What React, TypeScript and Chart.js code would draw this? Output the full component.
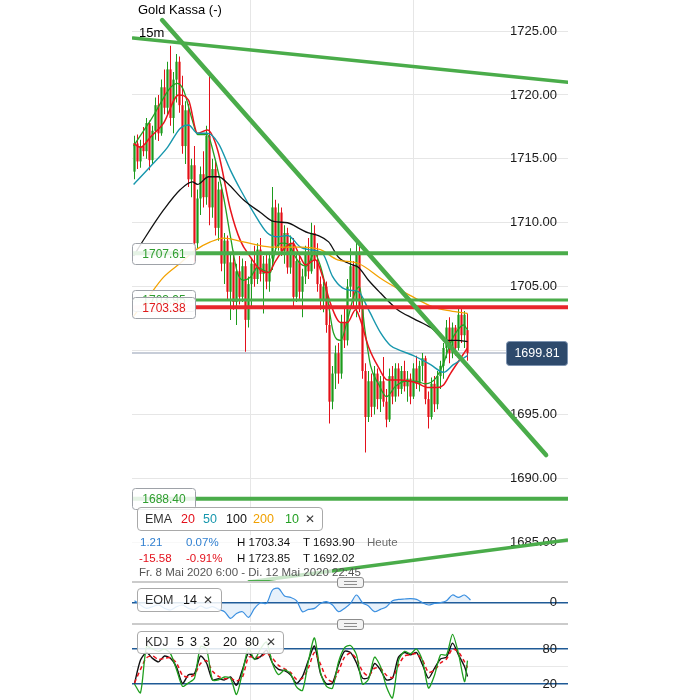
import React, { useEffect, useRef } from 'react';
import { Chart, registerables } from 'chart.js';

Chart.register(...registerables);

const FONT = '"Liberation Sans", Arial, Helvetica, sans-serif';
Chart.defaults.font.family = FONT;

// ---------------- data ----------------
const candleOpen = [
  1714.0, 1716.2, 1714.8, 1716.0, 1715.6, 1717.8, 1714.9, 1717.2, 1719.2, 1717.0,
  1720.6, 1719.0, 1722.0, 1718.2, 1721.2, 1722.6, 1719.2, 1716.0, 1718.8, 1713.4,
  1714.5, 1708.4, 1711.9, 1713.8, 1712.0, 1716.8, 1711.2, 1714.2, 1709.6, 1712.6,
  1706.8, 1708.6, 1704.6, 1706.9, 1703.8, 1706.2, 1704.2, 1706.6, 1702.4, 1705.2,
  1706.8, 1705.6, 1707.9, 1706.0, 1706.8, 1705.4, 1707.2, 1711.2, 1708.2, 1710.8,
  1707.8, 1709.2, 1706.5, 1708.4, 1704.2, 1707.0, 1704.6, 1705.8, 1707.6, 1706.2,
  1709.2, 1707.0, 1705.2, 1704.0, 1705.0, 1702.0, 1696.0, 1698.2, 1699.8, 1698.2,
  1702.2, 1700.8, 1705.0, 1706.6, 1704.0, 1707.6, 1703.4, 1698.4, 1694.8, 1697.6,
  1695.6, 1698.2, 1696.2, 1697.6, 1696.0, 1694.6, 1698.0, 1696.4, 1698.6, 1697.0,
  1698.4, 1697.2, 1697.8, 1696.4, 1698.6, 1697.4, 1698.8, 1699.4, 1696.2, 1694.8,
  1697.4, 1695.8, 1698.0, 1698.8, 1700.2, 1701.8, 1699.8, 1701.8, 1700.2, 1702.8,
  1701.2, 1701.6,
];
const candleHigh = [
  1716.8, 1716.9, 1716.5, 1717.5, 1718.2, 1718.0, 1717.6, 1719.8, 1720.0, 1721.2,
  1722.0, 1722.6, 1723.85, 1721.8, 1723.2, 1723.0, 1721.5, 1719.5, 1719.3, 1715.0,
  1716.0, 1712.6, 1714.4, 1715.6, 1717.6, 1721.9, 1715.0, 1714.8, 1713.2, 1713.0,
  1709.2, 1709.0, 1707.6, 1707.8, 1706.8, 1707.4, 1707.2, 1707.0, 1705.8, 1707.2,
  1708.2, 1708.4, 1708.8, 1707.4, 1707.6, 1707.6, 1712.8, 1711.8, 1711.5, 1711.2,
  1709.8, 1709.6, 1709.0, 1708.8, 1707.6, 1707.6, 1706.4, 1708.2, 1708.8, 1710.0,
  1709.8, 1708.4, 1705.8, 1705.4, 1705.4, 1703.6, 1698.8, 1700.4, 1700.6, 1702.8,
  1703.4, 1705.6, 1708.0, 1707.0, 1708.6, 1708.2, 1704.0, 1699.0, 1698.4, 1698.2,
  1698.8, 1698.6, 1698.0, 1699.5, 1697.0, 1698.6, 1698.8, 1699.0, 1699.0, 1698.8,
  1699.2, 1698.4, 1698.2, 1699.0, 1699.6, 1699.2, 1699.8, 1699.6, 1696.8, 1697.9,
  1698.0, 1698.4, 1699.2, 1700.6, 1702.4, 1702.6, 1702.2, 1702.0, 1703.34, 1703.3,
  1703.1, 1702.9,
];
const candleLow = [
  1713.4, 1714.2, 1714.3, 1715.2, 1715.0, 1714.1, 1714.6, 1716.5, 1716.4, 1716.8,
  1718.5, 1718.4, 1717.6, 1717.0, 1719.4, 1718.6, 1715.4, 1714.6, 1712.8, 1712.0,
  1706.9, 1708.0, 1710.6, 1711.2, 1711.4, 1709.8, 1710.4, 1709.0, 1708.6, 1706.2,
  1705.2, 1704.0, 1702.4, 1703.2, 1702.0, 1703.6, 1703.8, 1699.9, 1701.8, 1703.4,
  1705.0, 1705.2, 1705.4, 1702.9, 1704.8, 1704.6, 1706.3, 1707.6, 1707.8, 1707.4,
  1706.8, 1706.0, 1706.0, 1703.4, 1703.8, 1704.0, 1702.6, 1705.2, 1705.6, 1706.0,
  1706.4, 1704.6, 1703.2, 1703.0, 1701.4, 1694.3, 1695.4, 1697.0, 1697.4, 1697.8,
  1700.2, 1700.4, 1704.2, 1703.4, 1702.6, 1703.0, 1697.8, 1692.02, 1694.4, 1694.8,
  1695.0, 1695.4, 1695.2, 1695.6, 1694.0, 1694.4, 1695.8, 1696.0, 1696.4, 1696.6,
  1696.8, 1696.0, 1695.8, 1696.2, 1697.0, 1696.8, 1697.6, 1695.8, 1693.9, 1694.6,
  1695.2, 1695.4, 1697.0, 1697.8, 1699.4, 1699.0, 1699.4, 1699.6, 1700.0, 1700.6,
  1700.2, 1699.2,
];
const candleClose = [
  1716.2, 1714.8, 1716.0, 1715.6, 1717.8, 1714.9, 1717.2, 1719.2, 1717.0, 1720.6,
  1719.0, 1722.0, 1718.2, 1721.2, 1722.6, 1719.2, 1716.0, 1718.8, 1713.4, 1714.5,
  1708.4, 1711.9, 1713.8, 1712.0, 1716.8, 1711.2, 1714.2, 1709.6, 1712.6, 1706.8,
  1708.6, 1704.6, 1706.9, 1703.8, 1706.2, 1704.2, 1706.6, 1702.4, 1705.2, 1706.8,
  1705.6, 1707.9, 1706.0, 1706.8, 1705.4, 1707.2, 1711.2, 1708.2, 1710.8, 1707.8,
  1709.2, 1706.5, 1708.4, 1704.2, 1707.0, 1704.6, 1705.8, 1707.6, 1706.2, 1709.2,
  1707.0, 1705.2, 1704.0, 1705.0, 1702.0, 1696.0, 1698.2, 1699.8, 1698.2, 1702.2,
  1700.8, 1705.0, 1706.6, 1704.0, 1707.6, 1703.4, 1698.4, 1694.8, 1697.6, 1695.6,
  1698.2, 1696.2, 1697.6, 1696.0, 1694.6, 1698.0, 1696.4, 1698.6, 1697.0, 1698.4,
  1697.2, 1697.8, 1696.4, 1698.6, 1697.4, 1698.8, 1699.4, 1696.2, 1694.8, 1697.4,
  1695.8, 1698.0, 1698.8, 1700.2, 1701.8, 1699.8, 1701.8, 1700.2, 1702.8, 1701.2,
  1702.8, 1699.81,
];

// EMA lines: [candle index, price]
const ema10 = [
  [-0.3, 1716.0], [5.3, 1718.0], [14.3, 1720.9], [16.3, 1720.4], [19.3, 1718.0], [21, 1716.9],
  [24.3, 1716.9], [26.3, 1715.5], [29.7, 1712.0], [32, 1708.9], [34.3, 1706.1], [36.3, 1705.5],
  [38.7, 1705.75], [41, 1706.5], [43, 1706.3], [45.3, 1706.1], [47, 1707.9], [49.3, 1708.4],
  [51.3, 1708.3], [53.7, 1707.3], [55.3, 1706.8], [57.3, 1706.6], [60, 1707.6], [62, 1706.6],
  [64, 1704.6], [66.3, 1701.4], [68.7, 1700.8], [71, 1702.4], [73.3, 1704.4], [75, 1705.0],
  [76.7, 1701.8], [78.7, 1698.8], [81.3, 1697.4], [84, 1696.4], [87, 1697.2], [90.3, 1697.6],
  [93.7, 1697.6], [97, 1697.4], [100.3, 1697.8], [103, 1699.0], [105.3, 1700.6], [107.7, 1701.6],
  [109.7, 1702.0], [111, 1701.6],
];
const ema20 = [
  [-0.3, 1716.2], [2, 1715.9], [5.3, 1716.7], [9.7, 1717.8], [14.7, 1720.0], [18, 1719.6],
  [21, 1717.0], [24.3, 1717.25], [27.7, 1715.7], [32, 1711.0], [35.3, 1708.6], [38.7, 1707.3],
  [42, 1706.3], [44.7, 1706.1], [47, 1707.0], [50, 1708.0], [52.7, 1708.4], [55.3, 1707.3],
  [57, 1706.7], [60.3, 1707.1], [62.7, 1705.8], [65.3, 1703.7], [68.7, 1702.2], [71, 1702.2],
  [73.7, 1703.2], [75.3, 1702.4], [78, 1700.3], [81.3, 1698.7], [84.3, 1697.7], [88.7, 1697.7],
  [93.7, 1697.5], [98, 1697.1], [101, 1697.1], [103, 1697.3], [105.3, 1698.2], [108.7, 1699.4],
  [111, 1700.2],
];
const ema50 = [
  [-0.3, 1713.0], [5.3, 1714.4], [11, 1715.9], [15.3, 1717.4], [18, 1717.65], [21, 1717.0],
  [24.3, 1717.0], [28, 1716.2], [32, 1714.1], [35.3, 1712.6], [39.7, 1710.8], [44.3, 1709.2],
  [47.7, 1708.9], [51, 1709.0], [55.3, 1708.1], [58, 1707.9], [62.7, 1707.6], [66, 1705.8],
  [69.3, 1704.9], [72.7, 1704.7], [74.7, 1704.6], [78, 1703.2], [82, 1701.4], [85.3, 1700.4],
  [88.7, 1700.0], [93, 1699.6], [98.7, 1698.9], [103, 1698.3], [106.3, 1698.9], [109, 1699.3],
  [111, 1699.6],
];
const ema100 = [
  [-0.3, 1707.4], [3, 1708.65], [9.7, 1711.0], [15.3, 1712.6], [19.3, 1713.2], [21, 1713.0],
  [24.7, 1713.6], [28, 1713.6], [31, 1713.1], [36.3, 1711.8], [42, 1710.8], [46.3, 1710.1],
  [51, 1710.0], [55.3, 1709.5], [58, 1709.2], [61.3, 1709.0], [64.7, 1708.5], [68, 1707.3],
  [72.7, 1706.7], [74.7, 1706.5], [78, 1705.5], [82, 1704.5], [87.7, 1703.2], [93, 1702.5],
  [98.7, 1701.8], [104.3, 1700.8], [107.7, 1700.8], [111, 1700.7],
];
const ema200 = [
  [-0.3, 1702.7], [4.3, 1704.1], [9.7, 1705.75], [15.3, 1706.85], [20.3, 1707.86], [25.3, 1708.5],
  [29.7, 1708.8], [36.3, 1708.5], [45.3, 1708.1], [55.3, 1708.1], [62, 1707.9], [67.7, 1707.1],
  [74.3, 1706.85], [83, 1705.5], [92, 1704.3], [99.7, 1703.4], [105.3, 1703.1], [111, 1702.9],
];

// drawn lines
const topTrend = [[-0.5, 1724.45], [144.5, 1721.0]];
const downTrend = [[9.2, 1725.86], [137.2, 1691.82]];
const lowTrend = [[37.8, 1681.89], [144.5, 1685.17]];
const levelTags = [1707.61, 1703.95, 1703.38, 1688.40];
const levelColors = ['#2f9e2f', '#2f9e2f', '#e01b1b', '#2f9e2f'];
const levelLineColors = ['#4aac4a', '#4aac4a', '#e8262b', '#4aac4a'];
const levelLineWidths = [4, 3, 4, 4];
const lastPrice = 1699.81;

const priceTicks = [1685, 1690, 1695, 1700, 1705, 1710, 1715, 1720, 1725];
const dayBreaks = [38.67, 93];

// indicators
const kdjIndex = [
  0, 2, 4, 6, 8, 10, 12, 14, 16, 18, 20, 22, 24, 26, 28, 30, 32, 34, 36, 38,
  40, 42, 44, 46, 48, 50, 52, 54, 56, 58, 60, 62, 64, 66, 68, 70, 72, 74, 76, 78,
  80, 82, 84, 86, 88, 90, 92, 94, 96, 98, 100, 102, 104, 106, 108, 110, 111,
];
const kValues = [
  21, 61, 74, 64, 58, 68, 64, 49, 21, 36, 38, 68, 56, 27, 29, 27, 32, 18, 45, 73,
  63, 67, 78, 56, 45, 43, 36, 21, 33, 61, 85, 38, 20, 22, 53, 76, 74, 56, 30, 31,
  55, 44, 27, 30, 66, 74, 70, 74, 53, 30, 47, 63, 66, 90, 70, 50, 33,
];
const dValues = [
  22, 45, 65, 68, 62, 64, 65, 56, 35, 32, 36, 55, 60, 42, 33, 29, 30, 25, 32, 66,
  66, 66, 73, 64, 52, 46, 40, 28, 30, 48, 74, 54, 30, 24, 42, 66, 73, 63, 42, 34,
  47, 47, 35, 31, 52, 68, 70, 72, 61, 40, 44, 56, 63, 80, 75, 58, 48,
];
const jValues = [
  20, 5, 84, 80, 76, 80, 72, 45, 16, 22, 30, 84, 80, 27, 27, 32, 30, 2, 40, 82,
  62, 80, 92, 55, 36, 44, 38, 15, 9, 60, 99, 40, 16, 13, 58, 82, 86, 70, 20, 28,
  66, 50, 15, -4, 60, 76, 72, 80, 60, 13, 35, 70, 70, 105, 72, 24, 60,
];
const eomIndex = [
  0, 2, 4, 6, 8, 10, 12, 14, 16, 18, 20, 22, 24, 26, 28, 30, 32, 34, 36, 38,
  40, 42, 44, 46, 48, 50, 52, 54, 56, 58, 60, 62, 64, 66, 68, 70, 72, 74, 76, 78,
  80, 82, 84, 86, 88, 90, 92, 94, 96, 98, 100, 102, 104, 106, 108, 110, 112,
];
const eomValues = [
  2, -2.3, -5.7, -4, -2.3, -5.7, -7.3, -4, -2.3, -5.7, -6.7, -3.3, -5.7, -4, -6.7, -9, -15.7, -10.7, -9, -14.7,
  -5.7, 0, -0.7, 12.7, 14.3, 6.7, 5.3, 2, -9, -6.7, -5.7, -0.7, 1, -2.3, -9, -5.7, -0.7, 7.7, 0, -3.3,
  -9, -6.7, -4, 2, 3.3, 3.7, 4, 3.3, 0, -2.3, -0.7, 0, 2, 7.7, 5.3, 7.7, 2.7,
];

const X_MIN = -0.8333;
const X_MAX = 144.5;

// ---------------- helpers ----------------
const pts = (pairs: number[][]) => pairs.map(([x, y]) => ({ x, y }));
const zip = (xs: number[], ys: number[]) => xs.map((x, i) => ({ x, y: ys[i] }));

function rr(ctx: CanvasRenderingContext2D, x: number, y: number, w: number, h: number, r: number) {
  ctx.beginPath();
  ctx.moveTo(x + r, y);
  ctx.lineTo(x + w - r, y);
  ctx.arcTo(x + w, y, x + w, y + r, r);
  ctx.lineTo(x + w, y + h - r);
  ctx.arcTo(x + w, y + h, x + w - r, y + h, r);
  ctx.lineTo(x + r, y + h);
  ctx.arcTo(x, y + h, x, y + h - r, r);
  ctx.lineTo(x, y + r);
  ctx.arcTo(x, y, x + r, y, r);
  ctx.closePath();
}

const priceTagPlugin = {
  id: 'priceTags',
  afterDraw(chart: any) {
    const ctx: CanvasRenderingContext2D = chart.ctx;
    const ys = chart.scales.y;
    ctx.save();
    ctx.textAlign = 'center';
    ctx.textBaseline = 'middle';
    ctx.font = `12px ${FONT}`;
    levelTags.forEach((v, k) => {
      const cy = ys.getPixelForValue(v);
      const h = 21;
      rr(ctx, 0.5, Math.round(cy - h / 2) + 0.5, 63, h, 3);
      ctx.fillStyle = 'rgba(255,255,255,0.86)';
      ctx.fill();
      ctx.strokeStyle = '#9ea2a8';
      ctx.lineWidth = 1;
      ctx.stroke();
      ctx.fillStyle = levelColors[k];
      ctx.fillText(v.toFixed(2), 32, cy + 1);
    });
    const cy = ys.getPixelForValue(lastPrice);
    rr(ctx, 374.5, Math.round(cy - 12) + 0.5, 61, 24, 3);
    ctx.fillStyle = '#2e4a6c';
    ctx.fill();
    ctx.strokeStyle = '#7d93b0';
    ctx.stroke();
    ctx.fillStyle = '#ffffff';
    ctx.font = `12.5px ${FONT}`;
    ctx.fillText(lastPrice.toFixed(2), 405, cy + 1);
    ctx.restore();
  },
};

const makeXAxis = () => ({
  type: 'linear' as const,
  min: X_MIN,
  max: X_MAX,
  offset: false,
  ticks: { display: false },
  grid: { color: '#e6e6e6', drawTicks: false, offset: false },
  border: { display: false },
  afterBuildTicks: (s: any) => {
    s.ticks = dayBreaks.map((v) => ({ value: v }));
  },
});

const rightAxis = (min: number, max: number, values: number[], extra: any = {}) => ({
  type: 'linear' as const,
  position: 'right' as const,
  min,
  max,
  afterBuildTicks: (s: any) => {
    s.ticks = values.map((v) => ({ value: v }));
  },
  afterFit: (s: any) => {
    s.width = 0;
    s.paddingTop = 0;
    s.paddingBottom = 0;
  },
  border: { display: false },
  ...extra,
});

export default function App() {
  const mainRef = useRef<HTMLCanvasElement>(null);
  const eomRef = useRef<HTMLCanvasElement>(null);
  const kdjRef = useRef<HTMLCanvasElement>(null);

  useEffect(() => {
    const charts: Chart[] = [];
    const up = candleClose.map((c, i) => c >= candleOpen[i]);
    const bodies = candleOpen.map((o, i) => ({ x: i, y: [o, candleClose[i]] }));
    const wicks = candleOpen.map((_, i) => ({ x: i, y: [candleLow[i], candleHigh[i]] }));

    const line = (data: any[], color: string, width: number, order: number, extra: any = {}) => ({
      type: 'line' as const,
      data,
      borderColor: color,
      borderWidth: width,
      pointRadius: 0,
      fill: false,
      order,
      ...extra,
    });

    const datasets: any[] = [
      line(pts(downTrend), '#4aac4a', 4.5, 0, { borderCapStyle: 'round' }),
      line(pts(topTrend), '#4aac4a', 3.5, 0, { borderCapStyle: 'round' }),
      line(pts(lowTrend), '#4aac4a', 3.5, 0),
      ...levelTags.map((v, k) =>
        line(pts([[X_MIN, v], [X_MAX, v]]), levelLineColors[k], levelLineWidths[k], 1)
      ),
      line(pts(ema200), '#f3a200', 1.3, 2, { cubicInterpolationMode: 'monotone' }),
      line(pts(ema100), '#111111', 1.3, 2, { cubicInterpolationMode: 'monotone' }),
      line(pts(ema50), '#1797ad', 1.4, 2, { cubicInterpolationMode: 'monotone' }),
      line(pts(ema20), '#e8141c', 1.5, 2, { cubicInterpolationMode: 'monotone' }),
      line(pts(ema10), '#23a023', 1.3, 2, { cubicInterpolationMode: 'monotone' }),
      {
        type: 'bar',
        data: wicks,
        backgroundColor: up.map((u) => (u ? '#1d9b1d' : '#e3101b')),
        barThickness: 1,
        grouped: false,
        inflateAmount: 0,
        order: 3,
      },
      {
        type: 'bar',
        data: bodies,
        backgroundColor: up.map((u) => (u ? 'rgba(90,182,90,0.85)' : 'rgba(236,78,78,0.8)')),
        barThickness: 3,
        grouped: false,
        inflateAmount: 0,
        order: 4,
      },
      line(pts([[X_MIN, lastPrice], [X_MAX, lastPrice]]), '#b4bccb', 1.5, 5),
    ];

    charts.push(
      new Chart(mainRef.current!, {
        type: 'bar',
        data: { datasets },
        options: {
          responsive: false,
          animation: false,
          layout: { padding: 0 },
          plugins: { legend: { display: false }, tooltip: { enabled: false } },
          scales: {
            x: makeXAxis() as any,
            y: rightAxis(1681.89, 1727.43, priceTicks, {
              ticks: {
                mirror: true,
                padding: -11,
                color: '#1a1a1a',
                font: { size: 13, family: FONT },
                callback: (v: any) => Number(v).toFixed(2),
              },
              grid: { color: '#e6e6e6', drawTicks: false },
            }) as any,
          },
        },
        plugins: [priceTagPlugin],
      })
    );

    charts.push(
      new Chart(eomRef.current!, {
        type: 'line',
        data: {
          datasets: [
            {
              data: zip(eomIndex, eomValues),
              borderColor: '#3a8fe0',
              borderWidth: 1.2,
              pointRadius: 0,
              tension: 0.3,
              fill: 'origin',
              backgroundColor: 'rgba(58,143,224,0.12)',
            },
          ],
        },
        options: {
          responsive: false,
          animation: false,
          layout: { padding: 0 },
          plugins: { legend: { display: false }, tooltip: { enabled: false } },
          scales: {
            x: makeXAxis() as any,
            y: rightAxis(-19.3, 18.7, [0], {
              ticks: { mirror: true, padding: -11, color: '#1a1a1a', font: { size: 13, family: FONT } },
              grid: { color: '#1f5a96', lineWidth: 1.5, drawTicks: false },
            }) as any,
          },
        },
      })
    );

    charts.push(
      new Chart(kdjRef.current!, {
        type: 'line',
        data: {
          datasets: [
            { data: zip(kdjIndex, jValues), borderColor: '#1f9e1f', borderWidth: 1.3, pointRadius: 0, tension: 0.25 },
            { data: zip(kdjIndex, dValues), borderColor: '#e8141c', borderWidth: 1.5, pointRadius: 0, tension: 0.25, borderDash: [4, 3] },
            { data: zip(kdjIndex, kValues), borderColor: '#111111', borderWidth: 1.4, pointRadius: 0, tension: 0.25 },
          ],
        },
        options: {
          responsive: false,
          animation: false,
          layout: { padding: 0 },
          plugins: { legend: { display: false }, tooltip: { enabled: false } },
          scales: {
            x: makeXAxis() as any,
            y: rightAxis(-7.4, 119.4, [20, 50, 80], {
              ticks: {
                mirror: true,
                padding: -11,
                color: '#1a1a1a',
                font: { size: 13, family: FONT },
                callback: (v: any) => (v === 50 ? '' : String(v)),
              },
              grid: {
                drawTicks: false,
                color: (c: any) => (c.tick && c.tick.value === 50 ? '#e8e8e8' : '#1f5a96'),
                lineWidth: (c: any) => (c.tick && c.tick.value === 50 ? 1 : 1.5),
              },
            }) as any,
          },
        },
      })
    );

    return () => charts.forEach((c) => c.destroy());
  }, []);

  const T = ({ x, y, c = '#111', s = 12.5, w = 400, ff = FONT, children }: any) => (
    <span
      style={{
        position: 'absolute',
        left: x,
        top: y - 8,
        lineHeight: '16px',
        fontSize: s,
        color: c,
        fontWeight: w,
        fontFamily: ff,
        whiteSpace: 'nowrap',
      }}
    >
      {children}
    </span>
  );
  const X = ({ x, y }: any) => (
    <T x={x} y={y} c="#3a3a3a" s={12} w={700} ff='"DejaVu Sans", sans-serif'>
      ✕
    </T>
  );
  const box = (left: number, top: number, width: number, height: number): React.CSSProperties => ({
    position: 'absolute',
    left,
    top,
    width,
    height,
    border: '1px solid #a9a9a9',
    borderRadius: 4,
    background: 'rgba(255,255,255,0.86)',
    boxSizing: 'border-box',
  });
  const Handle = ({ top }: any) => (
    <div
      style={{
        position: 'absolute',
        left: 337,
        top,
        width: 27,
        height: 11,
        border: '1px solid #8c8c8c',
        borderRadius: 3,
        background: '#f3f3f3',
        boxSizing: 'border-box',
      }}
    >
      <div style={{ position: 'absolute', left: 6, top: 3, width: 13, height: 1, background: '#8c8c8c' }} />
      <div style={{ position: 'absolute', left: 6, top: 6, width: 13, height: 1, background: '#8c8c8c' }} />
    </div>
  );

  return (
    <div
      style={{
        position: 'absolute',
        left: 0,
        top: 0,
        width: 700,
        height: 700,
        background: '#ffffff',
        fontFamily: FONT,
        overflow: 'hidden',
      }}
    >
      <canvas ref={mainRef} width={436} height={582} style={{ position: 'absolute', left: 132, top: 0 }} />
      <canvas ref={eomRef} width={436} height={38} style={{ position: 'absolute', left: 132, top: 584 }} />
      <canvas ref={kdjRef} width={436} height={74} style={{ position: 'absolute', left: 132, top: 626 }} />

      <T x={138} y={10} s={13} c="#000">Gold Kassa (-)</T>
      <T x={139} y={33} s={13} c="#000">15m</T>

      <div style={{ position: 'absolute', left: 132, top: 535, width: 200, height: 45, background: 'rgba(255,255,255,0.7)' }} />

      <div style={box(137, 507, 186, 24)} />
      <T x={145} y={519} c="#333">EMA</T>
      <T x={181} y={519} c="#e3101b">20</T>
      <T x={203} y={519} c="#1797ad">50</T>
      <T x={226} y={519} c="#111">100</T>
      <T x={253} y={519} c="#f0a000">200</T>
      <T x={285} y={519} c="#23a023">10</T>
      <X x={305} y={519} />

      <T x={140} y={542} s={11.5} c="#2f7fd0">1.21</T>
      <T x={186} y={542} s={11.5} c="#2f7fd0">0.07%</T>
      <T x={237} y={542} s={11.5} c="#111">H 1703.34</T>
      <T x={303} y={542} s={11.5} c="#111">T 1693.90</T>
      <T x={367} y={542} s={11.5} c="#6b6b6b">Heute</T>
      <T x={139} y={558} s={11.5} c="#e3101b">-15.58</T>
      <T x={186} y={558} s={11.5} c="#e3101b">-0.91%</T>
      <T x={237} y={558} s={11.5} c="#111">H 1723.85</T>
      <T x={303} y={558} s={11.5} c="#111">T 1692.02</T>
      <T x={139} y={572} s={11.5} c="#555">Fr. 8 Mai 2020 6:00 - Di. 12 Mai 2020 22:45</T>

      <div style={{ position: 'absolute', left: 132, top: 581, width: 436, height: 2, background: '#cbcbcb' }} />
      <Handle top={577} />
      <div style={{ position: 'absolute', left: 132, top: 623, width: 436, height: 2, background: '#cbcbcb' }} />
      <Handle top={619} />

      <div style={box(137, 588, 85, 24)} />
      <T x={145} y={600} c="#333">EOM</T>
      <T x={183} y={600} c="#111">14</T>
      <X x={203} y={600} />

      <div style={box(137, 631, 147, 23)} />
      <T x={145} y={642} c="#333">KDJ</T>
      <T x={177} y={642} c="#111">5</T>
      <T x={190} y={642} c="#111">3</T>
      <T x={203} y={642} c="#111">3</T>
      <T x={223} y={642} c="#111">20</T>
      <T x={245} y={642} c="#111">80</T>
      <X x={266} y={642} />
    </div>
  );
}
